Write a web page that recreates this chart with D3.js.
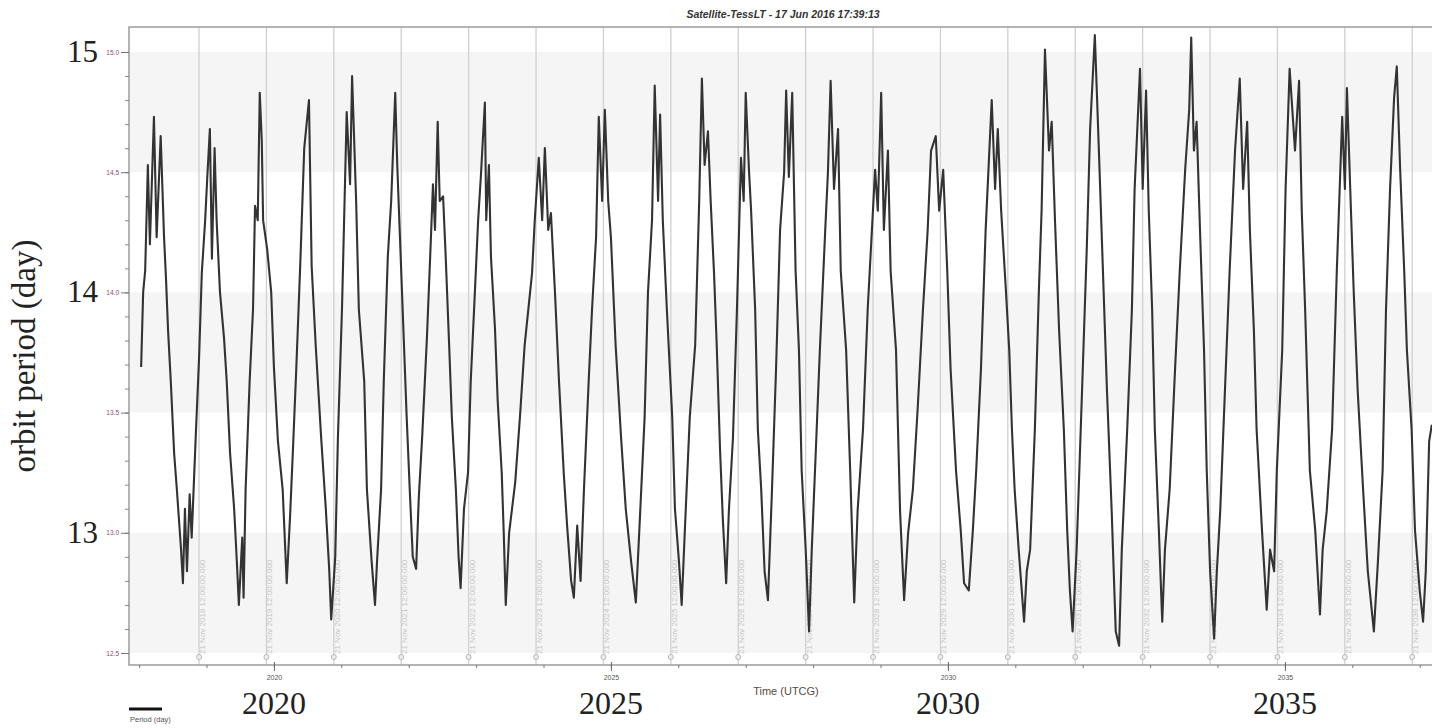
<!DOCTYPE html>
<html>
<head>
<meta charset="utf-8">
<script src="https://cdn.jsdelivr.net/npm/d3@7"></script>
<style>
  body { margin: 0; background: #fff; }
  svg { display: block; }
</style>
</head>
<body>
<div id="chart"></div>
<script>
// orbit period (days) vs time (decimal years)
const times = [
  2018.03,2018.06,2018.09,2018.13,2018.16,2018.22,2018.26,2018.32,2018.37,2018.40,2018.43,2018.47,2018.52,2018.56,2018.62,2018.65,2018.68,2018.71,2018.75,2018.78,2018.84,2018.89,2018.93,2018.98,
  2019.01,2019.05,2019.08,2019.12,2019.15,2019.20,2019.26,2019.30,2019.35,2019.41,2019.45,2019.48,2019.53,2019.55,2019.58,2019.64,2019.69,2019.72,2019.76,2019.79,2019.82,2019.84,2019.90,2019.96,
  2020.00,2020.06,2020.13,2020.19,2020.24,2020.28,2020.33,2020.39,2020.45,2020.52,2020.56,2020.62,2020.70,2020.77,2020.82,2020.85,2020.91,2020.95,
  2021.01,2021.08,2021.13,2021.16,2021.22,2021.26,2021.34,2021.38,2021.45,2021.50,2021.53,2021.59,2021.63,2021.69,2021.74,2021.80,2021.83,2021.87,2021.91,2021.97,
  2022.02,2022.06,2022.11,2022.15,2022.20,2022.27,2022.33,2022.36,2022.39,2022.43,2022.46,2022.51,2022.55,2022.60,2022.64,2022.70,2022.74,2022.77,2022.82,2022.88,2022.92,2022.97,
  2023.03,2023.07,2023.13,2023.15,2023.19,2023.22,2023.28,2023.32,2023.38,2023.41,2023.44,2023.49,2023.58,2023.65,2023.72,2023.83,2023.87,2023.93,2023.98,
  2024.02,2024.07,2024.11,2024.17,2024.23,2024.30,2024.35,2024.41,2024.45,2024.50,2024.55,2024.60,2024.67,2024.72,2024.78,2024.82,2024.87,2024.91,2024.96,
  2025.00,2025.07,2025.15,2025.22,2025.30,2025.37,2025.43,2025.50,2025.55,2025.61,2025.65,2025.70,2025.73,2025.77,2025.83,2025.91,2025.95,
  2026.01,2026.05,2026.10,2026.17,2026.25,2026.31,2026.35,2026.39,2026.44,2026.48,2026.53,2026.57,2026.62,2026.66,2026.71,2026.75,2026.81,2026.87,2026.93,2026.97,
  2027.00,2027.05,2027.08,2027.14,2027.18,2027.23,2027.28,2027.33,2027.39,2027.45,2027.51,2027.57,2027.60,2027.64,2027.69,2027.74,2027.79,2027.83,2027.89,2027.94,2027.98,
  2028.04,2028.10,2028.18,2028.22,2028.26,2028.31,2028.37,2028.41,2028.49,2028.55,2028.61,2028.66,2028.74,2028.81,2028.92,2028.96,
  2029.01,2029.05,2029.11,2029.15,2029.23,2029.29,2029.35,2029.41,2029.48,2029.55,2029.63,2029.70,2029.75,2029.82,2029.87,2029.93,2029.99,
  2030.04,2030.12,2030.19,2030.24,2030.31,2030.37,2030.42,2030.49,2030.56,2030.65,2030.70,2030.74,2030.79,2030.86,2030.91,2030.95,2030.99,
  2031.05,2031.13,2031.17,2031.22,2031.29,2031.35,2031.39,2031.44,2031.50,2031.54,2031.59,2031.65,2031.72,2031.77,2031.81,2031.85,2031.91,2031.99,
  2032.06,2032.11,2032.18,2032.24,2032.30,2032.36,2032.43,2032.49,2032.54,2032.58,2032.66,2032.73,2032.77,2032.85,2032.89,2032.94,2032.98,
  2033.03,2033.07,2033.13,2033.18,2033.22,2033.29,2033.37,2033.44,2033.52,2033.58,2033.61,2033.65,2033.69,2033.74,2033.80,2033.84,2033.89,2033.95,2033.99,
  2034.04,2034.11,2034.18,2034.26,2034.33,2034.38,2034.44,2034.48,2034.54,2034.58,2034.66,2034.73,2034.78,2034.84,2034.88,2034.96,
  2035.01,2035.07,2035.15,2035.21,2035.25,2035.30,2035.37,2035.45,2035.52,2035.56,2035.62,2035.70,2035.77,2035.85,2035.89,2035.92,2035.98,
  2036.02,2036.08,2036.16,2036.23,2036.32,2036.38,2036.45,2036.50,2036.56,2036.62,2036.66,2036.71,2036.77,2036.81,2036.88,2036.93,
  2037.00,2037.05,2037.09,2037.14,2037.18
];
const periods = [
  13.69,14.00,14.09,14.53,14.20,14.73,14.23,14.65,14.23,14.05,13.84,13.63,13.33,13.18,12.94,12.79,13.10,12.84,13.16,12.98,13.40,13.73,14.08,14.30,
  14.47,14.68,14.14,14.60,14.30,14.00,13.81,13.63,13.33,13.10,12.88,12.70,12.98,12.73,13.18,13.63,13.93,14.36,14.30,14.83,14.63,14.30,14.18,14.00,
  13.69,13.38,13.18,12.79,13.07,13.33,13.67,14.11,14.60,14.80,14.11,13.78,13.40,13.10,12.85,12.64,12.90,13.40,
  13.93,14.75,14.45,14.90,14.38,13.93,13.63,13.18,12.88,12.70,12.88,13.18,13.63,14.15,14.38,14.83,14.53,14.23,13.93,13.48,
  13.15,12.90,12.85,13.15,13.40,13.81,14.23,14.45,14.26,14.71,14.38,14.40,14.14,13.78,13.48,13.18,12.90,12.77,13.10,13.25,13.63,13.93,
  14.30,14.48,14.79,14.30,14.53,14.15,13.85,13.55,13.25,13.00,12.70,13.00,13.21,13.48,13.78,14.08,14.30,14.56,14.30,
  14.60,14.26,14.33,14.00,13.63,13.25,13.03,12.80,12.73,13.03,12.80,13.18,13.63,13.93,14.23,14.73,14.38,14.76,14.38,
  14.23,13.78,13.40,13.10,12.88,12.71,13.06,13.48,14.00,14.30,14.86,14.38,14.74,14.30,13.93,13.48,13.10,
  12.88,12.70,13.03,13.48,13.78,14.38,14.89,14.53,14.67,14.38,14.08,13.78,13.34,13.06,12.79,13.09,13.39,13.93,14.56,14.38,
  14.83,14.50,14.34,13.93,13.43,13.18,12.84,12.72,13.18,13.68,14.26,14.50,14.84,14.48,14.83,14.09,13.76,13.26,12.93,12.59,12.93,
  13.34,13.76,14.26,14.50,14.88,14.43,14.68,14.09,13.76,13.26,12.71,13.09,13.43,13.93,14.51,14.34,
  14.83,14.26,14.59,14.09,13.76,13.09,12.72,13.00,13.18,13.51,13.93,14.26,14.59,14.65,14.34,14.51,14.09,
  13.68,13.26,13.01,12.79,12.76,13.01,13.26,13.68,14.26,14.80,14.43,14.68,14.34,14.01,13.76,13.43,13.18,
  12.93,12.63,12.84,12.93,13.43,14.01,14.34,15.01,14.59,14.71,14.29,13.84,13.43,13.01,12.76,12.59,12.93,13.59,
  14.18,14.68,15.07,14.59,14.09,13.59,13.09,12.59,12.53,12.93,13.43,13.93,14.43,14.93,14.43,14.84,14.34,
  13.93,13.43,13.01,12.63,12.93,13.18,13.68,14.09,14.51,14.76,15.06,14.59,14.71,14.26,13.76,13.26,12.84,12.56,12.84,
  13.09,13.59,14.09,14.59,14.89,14.43,14.71,14.26,13.84,13.43,13.01,12.68,12.93,12.84,13.26,13.76,
  14.43,14.93,14.59,14.88,14.34,13.93,13.26,13.01,12.66,12.93,13.09,13.43,14.09,14.73,14.43,14.85,14.34,
  14.01,13.59,13.18,12.84,12.59,12.88,13.26,13.93,14.43,14.81,14.94,14.51,14.09,13.76,13.43,13.01,
  12.76,12.63,12.84,13.38,13.45
];

const innerTicks = [12.5, 13.0, 13.5, 14.0, 14.5, 15.0];
const bandRanges = [[14.5, 15.0], [13.5, 14.0], [12.5, 13.0]];
const outerLabels = [15, 14, 13];
const gridYears = d3.range(2018, 2037);          // 21 Nov of each year
const bigYears = [2020, 2025, 2030, 2035];
const monthNames = "Jan Feb Mar Apr May Jun Jul Aug Sep Oct Nov Dec".split(" ");

const W = 1432, H = 728;
const plotLeft = 129, plotTop = 27, plotBottom = 665;

const x = d3.scaleLinear().domain([2017.85, 2037.35]).range([plotLeft, plotLeft + 19.5 * 67.4]);
const y = d3.scaleLinear().domain([12.5, 15]).range([653, 52]);

// Nov 21 12:00 as fraction of year
const nov21 = 324.5 / 365;

const svg = d3.select('#chart').append('svg').attr('width', W).attr('height', H);

svg.append('defs').append('clipPath').attr('id', 'clip')
   .append('rect').attr('x', plotLeft).attr('y', plotTop).attr('width', W - plotLeft).attr('height', plotBottom - plotTop);

const plot = svg.append('g').attr('clip-path', 'url(#clip)');

// alternating bands
plot.selectAll('rect.band')
    .data(bandRanges)
    .enter().append('rect')
    .attr('class', 'band')
    .attr('x', plotLeft).attr('width', W - plotLeft)
    .attr('y', d => y(d[1]))
    .attr('height', d => y(d[0]) - y(d[1]))
    .attr('fill', '#f5f5f5');

// vertical grid lines on 21 Nov
plot.selectAll('line.grid')
    .data(gridYears)
    .enter().append('line')
    .attr('class', 'grid')
    .attr('x1', d => x(d + nov21)).attr('x2', d => x(d + nov21))
    .attr('y1', plotTop).attr('y2', plotBottom)
    .attr('stroke', '#d0d0d0').attr('stroke-width', 1.3);

plot.selectAll('text.gridlab')
    .data(gridYears)
    .enter().append('text')
    .attr('class', 'gridlab')
    .attr('transform', d => 'translate(' + (x(d + nov21) + 6) + ',654) rotate(-90)')
    .attr('font-family', 'Liberation Sans, Arial, sans-serif')
    .attr('font-size', 8)
    .attr('fill', '#c6c6c6')
    .text(d => '21 ' + monthNames[10] + ' ' + d + ' 12:00:00.000');

plot.selectAll('circle.gridmark')
    .data(gridYears)
    .enter().append('circle')
    .attr('class', 'gridmark')
    .attr('cx', d => x(d + nov21)).attr('cy', 657).attr('r', 2.5)
    .attr('fill', '#eee').attr('stroke', '#aaa').attr('stroke-width', 0.8);

// series
const line = d3.line().x((d, i) => x(times[i])).y(d => y(d));
plot.append('path')
    .datum(periods)
    .attr('d', line)
    .attr('fill', 'none')
    .attr('stroke', '#333')
    .attr('stroke-width', 2.1)
    .attr('stroke-linejoin', 'round');

// frame
svg.append('path')
   .attr('d', 'M' + (W + 5) + ',' + plotTop + 'H' + plotLeft + 'V' + plotBottom + 'H' + (W + 5))
   .attr('fill', 'none').attr('stroke', '#9c9c9c').attr('stroke-width', 1.5);

// y axis (inner, small)
const yMinor = svg.append('g')
   .attr('transform', 'translate(' + plotLeft + ',0)')
   .call(d3.axisLeft(y).tickValues(d3.range(125, 151).map(v => v / 10)).tickSize(4).tickFormat(''));
yMinor.select('.domain').remove();
yMinor.selectAll('line').attr('stroke', '#888');

const yAxis = svg.append('g')
   .attr('transform', 'translate(' + plotLeft + ',0)')
   .call(d3.axisLeft(y).tickValues(innerTicks).tickSize(8).tickPadding(2).tickFormat(d3.format('.1f')));
yAxis.select('.domain').remove();
yAxis.selectAll('line').attr('stroke', '#777');
yAxis.selectAll('text')
     .attr('font-family', 'Liberation Sans, Arial, sans-serif')
     .attr('font-size', 6.5)
     .attr('fill', '#8a4a70');

// x axis (inner, small)
const xMinor = svg.append('g')
   .attr('transform', 'translate(0,' + plotBottom + ')')
   .call(d3.axisBottom(x).tickValues(d3.range(2018, 2038)).tickSize(3).tickFormat(''));
xMinor.select('.domain').remove();
xMinor.selectAll('line').attr('stroke', '#777');

const xAxis = svg.append('g')
   .attr('transform', 'translate(0,' + plotBottom + ')')
   .call(d3.axisBottom(x).tickValues(bigYears).tickSize(6).tickPadding(4).tickFormat(d3.format('d')));
xAxis.select('.domain').remove();
xAxis.selectAll('line').attr('stroke', '#666').attr('y1', -3);
xAxis.selectAll('text')
     .attr('font-family', 'Liberation Sans, Arial, sans-serif')
     .attr('font-size', 7)
     .attr('fill', '#555');

// big outer labels
svg.selectAll('text.ybig')
   .data(outerLabels)
   .enter().append('text')
   .attr('class', 'ybig')
   .attr('x', 98).attr('y', d => y(d) + 10)
   .attr('text-anchor', 'end')
   .attr('font-family', 'Liberation Serif, Times New Roman, serif')
   .attr('font-size', 31)
   .attr('fill', '#222')
   .text(d => d);

svg.selectAll('text.xbig')
   .data(bigYears)
   .enter().append('text')
   .attr('class', 'xbig')
   .attr('x', d => x(d)).attr('y', 714)
   .attr('text-anchor', 'middle')
   .attr('font-family', 'Liberation Serif, Times New Roman, serif')
   .attr('font-size', 32)
   .attr('fill', '#222')
   .text(d => d);

svg.append('text')
   .attr('transform', 'translate(35,356) rotate(-90)')
   .attr('text-anchor', 'middle')
   .attr('font-family', 'Liberation Serif, Times New Roman, serif')
   .attr('font-size', 33)
   .attr('fill', '#222')
   .text('orbit period (day)');

// title
svg.append('text')
   .attr('x', 783).attr('y', 18)
   .attr('text-anchor', 'middle')
   .attr('font-family', 'Liberation Sans, Arial, sans-serif')
   .attr('font-size', 10.5)
   .attr('font-weight', 'bold')
   .attr('font-style', 'italic')
   .attr('fill', '#333')
   .text('Satellite-TessLT - 17 Jun 2016 17:39:13');

svg.append('text')
   .attr('x', 786).attr('y', 695)
   .attr('text-anchor', 'middle')
   .attr('font-family', 'Liberation Sans, Arial, sans-serif')
   .attr('font-size', 11)
   .attr('fill', '#5a4a40')
   .text('Time (UTCG)');

// legend
svg.append('line')
   .attr('x1', 129).attr('x2', 162).attr('y1', 709).attr('y2', 709)
   .attr('stroke', '#111').attr('stroke-width', 3);
svg.append('text')
   .attr('x', 130).attr('y', 722)
   .attr('font-family', 'Liberation Sans, Arial, sans-serif')
   .attr('font-size', 7.5)
   .attr('fill', '#555')
   .text('Period (day)');
</script>
</body>
</html>
